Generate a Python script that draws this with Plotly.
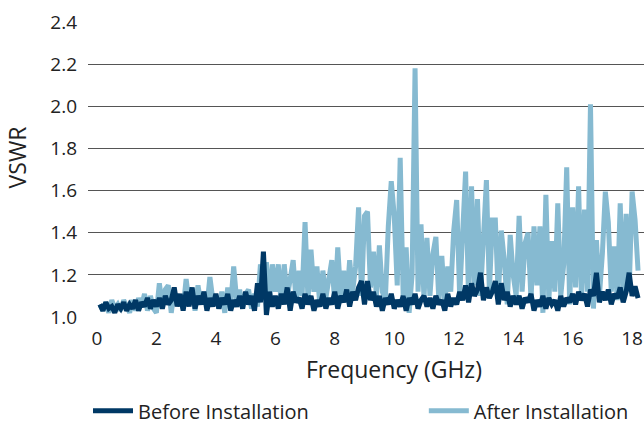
import plotly.graph_objects as go

freq = [round(0.1 * i, 1) for i in range(1, 183)]

before = [
    1.06, 1.03, 1.07, 1.04, 1.05, 1.02, 1.06, 1.04, 1.07, 1.03,
    1.06, 1.04, 1.08, 1.03, 1.07, 1.05, 1.09, 1.04, 1.08, 1.05,
    1.09, 1.04, 1.10, 1.06, 1.08, 1.14, 1.05, 1.11, 1.03, 1.12,
    1.05, 1.14, 1.04, 1.10, 1.06, 1.12, 1.03, 1.09, 1.05, 1.11,
    1.04, 1.09, 1.06, 1.11, 1.03, 1.08, 1.05, 1.10, 1.04, 1.12,
    1.06, 1.10, 1.03, 1.16, 1.07, 1.31, 1.01, 1.12, 1.05, 1.10,
    1.04, 1.11, 1.06, 1.14, 1.03, 1.12, 1.07, 1.09, 1.04, 1.11,
    1.06, 1.10, 1.03, 1.08, 1.05, 1.11, 1.04, 1.09, 1.06, 1.12,
    1.04, 1.10, 1.07, 1.13, 1.05, 1.12, 1.08, 1.14, 1.17, 1.06,
    1.17, 1.08, 1.12, 1.05, 1.10, 1.03, 1.09, 1.06, 1.11, 1.04,
    1.08, 1.05, 1.10, 1.03, 1.09, 1.06, 1.11, 1.04, 1.08, 1.10,
    1.05, 1.09, 1.04, 1.10, 1.06, 1.08, 1.03, 1.11, 1.05, 1.09,
    1.06, 1.12, 1.08, 1.15, 1.07, 1.16, 1.10, 1.13, 1.21, 1.08,
    1.14, 1.09, 1.12, 1.17, 1.06, 1.16, 1.08, 1.12, 1.05, 1.10,
    1.06, 1.10, 1.04, 1.09, 1.07, 1.11, 1.03, 1.08, 1.05, 1.10,
    1.04, 1.09, 1.06, 1.08, 1.03, 1.10, 1.05, 1.09, 1.07, 1.11,
    1.06, 1.12, 1.08, 1.11, 1.05, 1.13, 1.10, 1.21, 1.07, 1.12,
    1.08, 1.13, 1.06, 1.11, 1.09, 1.14, 1.07, 1.12, 1.21, 1.10,
    1.145, 1.09,
]

after = [
    1.06, 1.03, 1.07, 1.02, 1.08, 1.04, 1.06, 1.03, 1.08, 1.05,
    1.02, 1.08, 1.03, 1.09, 1.05, 1.11, 1.03, 1.10, 1.04, 1.02,
    1.16, 1.05, 1.13, 1.15, 1.02, 1.12, 1.06, 1.10, 1.04, 1.18,
    1.07, 1.14, 1.03, 1.15, 1.06, 1.12, 1.05, 1.19, 1.08, 1.10,
    1.04, 1.12, 1.02, 1.14, 1.06, 1.24, 1.08, 1.13, 1.04, 1.11,
    1.13, 1.04, 1.11, 1.05, 1.25, 1.08, 1.26, 1.06, 1.25, 1.12,
    1.25, 1.06, 1.25, 1.09, 1.20, 1.27, 1.07, 1.22, 1.10, 1.45,
    1.08, 1.32, 1.12, 1.24, 1.05, 1.22, 1.09, 1.20, 1.27, 1.06,
    1.33, 1.10, 1.22, 1.07, 1.27, 1.12, 1.24, 1.52, 1.10, 1.48,
    1.50, 1.14, 1.31, 1.10, 1.34, 1.12, 1.08, 1.43, 1.645, 1.48,
    1.15, 1.755, 1.10, 1.33, 1.02, 1.20, 2.18, 1.12, 1.44, 1.09,
    1.375, 1.10, 1.30, 1.38, 1.08, 1.29, 1.06, 1.24, 1.12, 1.41,
    1.555, 1.10, 1.40, 1.69, 1.08, 1.62, 1.15, 1.56, 1.10, 1.40,
    1.65, 1.12, 1.46, 1.46, 1.09, 1.41, 1.27, 1.06, 1.39, 1.20,
    1.10, 1.48, 1.12, 1.35, 1.40, 1.08, 1.43, 1.15, 1.43, 1.02,
    1.58, 1.08, 1.36, 1.12, 1.54, 1.10, 1.25, 1.71, 1.06, 1.52,
    1.14, 1.62, 1.08, 1.51, 1.12, 2.01, 1.04, 1.365, 1.10, 1.30,
    1.595, 1.45, 1.12, 1.335, 1.08, 1.54, 1.10, 1.49, 1.12, 1.595,
    1.46, 1.22,
]

x_ticks = [0, 2, 4, 6, 8, 10, 12, 14, 16, 18]
y_ticks = [1.0, 1.2, 1.4, 1.6, 1.8, 2.0, 2.2, 2.4]

DARK = "#003865"
LIGHT = "#86BAD1"
FONT = "Open Sans"
TEXT = "#222222"

fig = go.Figure()
fig.add_trace(go.Scatter(
    x=freq, y=after, mode="lines", name="After Installation",
    line=dict(color=LIGHT, width=5), legend="legend2",
))
fig.add_trace(go.Scatter(
    x=freq, y=before, mode="lines", name="Before Installation",
    line=dict(color=DARK, width=5), legend="legend",
))

legend_common = dict(
    orientation="h", xanchor="left", y=-0.318, yanchor="middle",
    font=dict(size=20, color=TEXT), itemwidth=40,
    bgcolor="rgba(0,0,0,0)", borderwidth=0,
)

fig.update_layout(
    width=644, height=424,
    margin=dict(l=88, r=0, t=22, b=107, autoexpand=False),
    paper_bgcolor="white", plot_bgcolor="white",
    font=dict(family=FONT, size=19, color=TEXT),
    showlegend=True,
    legend=dict(x=0.0, **legend_common),
    legend2=dict(x=0.604, **legend_common),
    xaxis=dict(
        range=[-0.3, 18.4], tickvals=x_ticks, ticktext=[str(v) for v in x_ticks],
        showgrid=False, zeroline=False, showline=False, ticks="",
        ticklabelstandoff=8, automargin=False,
        tickfont=dict(size=19),
    ),
    yaxis=dict(
        range=[1.0, 2.4], tickvals=y_ticks, ticktext=[f"{v:.1f}" for v in y_ticks],
        showgrid=True, gridcolor="#555555", gridwidth=1,
        zeroline=False, showline=False, ticks="",
        ticklabelstandoff=10, automargin=False,
        tickfont=dict(size=19),
    ),
    annotations=[
        dict(text="Frequency (GHz)", xref="paper", yref="paper",
             x=0.5504, y=-0.1763, xanchor="center", yanchor="middle",
             showarrow=False, font=dict(size=23, color=TEXT)),
        dict(text="VSWR", xref="paper", yref="paper",
             x=-0.127, y=0.5424, xanchor="center", yanchor="middle",
             textangle=-90, showarrow=False, font=dict(size=23, color=TEXT)),
    ],
)

fig.write_html(
    "out.html",
    config={"displayModeBar": False},
    post_script="document.body.style.margin='0px';",
)
